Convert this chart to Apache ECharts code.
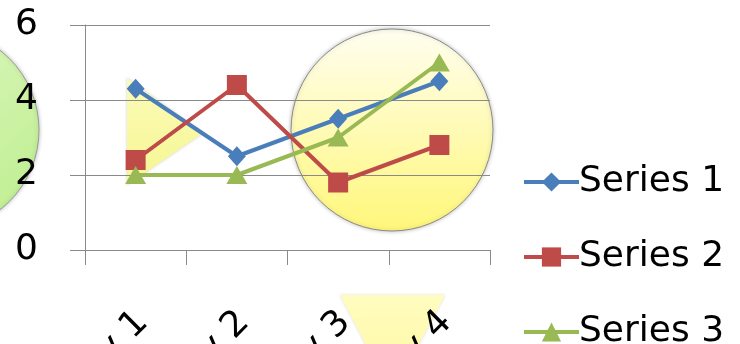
<!DOCTYPE html>
<html>
<head>
<meta charset="utf-8">
<script src="https://cdn.jsdelivr.net/npm/echarts@6/dist/echarts.min.js"></script>
<style>html,body{margin:0;padding:0;background:#fff;}#c{width:740px;height:344px;}</style>
</head>
<body>
<div id="c"></div>
<script>
const categories = ['Category 1', 'Category 2', 'Category 3', 'Category 4'];
const seriesNames = ['Series 1', 'Series 2', 'Series 3'];
const series1 = [4.3, 2.5, 3.5, 4.5];
const series2 = [2.4, 4.4, 1.8, 2.8];
const series3 = [2, 2, 3, 5];
const yTicks = [0, 2, 4, 6];

const FONT = 'DejaVu Sans';
const chart = echarts.init(document.getElementById('c'));
const grey = '#8a8a8a';
const yellowGrad = new echarts.graphic.LinearGradient(0, 0, 0, 1, [
  {offset: 0, color: '#fffef0'}, {offset: 1, color: '#fff77a'}]);
const yellowTri = new echarts.graphic.LinearGradient(0, 0, 0, 1, [
  {offset: 0, color: '#fbfbb8'}, {offset: 1, color: '#f6f692'}]);
const yellowTri2 = new echarts.graphic.LinearGradient(0, 0, 0, 1, [
  {offset: 0, color: '#fffcc0'}, {offset: 1, color: '#fff89c'}]);
const greenGrad = new echarts.graphic.LinearGradient(0, 0, 1, 1, [
  {offset: 0, color: '#e4f9cf'}, {offset: 1, color: '#bdee8c'}]);

chart.setOption({
  animation: false,
  textStyle: {fontFamily: FONT},
  graphic: [
    {type: 'circle', z: -10, shape: {cx: -62, cy: 130, r: 101},
      style: {fill: greenGrad, stroke: '#9a9a9a', lineWidth: 1, shadowBlur: 4, shadowColor: 'rgba(0,0,0,0.25)'}},
    {type: 'polygon', z: -10, shape: {points: [[127, 78], [203, 133], [127, 185]]},
      style: {fill: yellowTri, shadowBlur: 3, shadowColor: 'rgba(0,0,0,0.2)'}},
    {type: 'circle', z: -10, shape: {cx: 392, cy: 130, r: 101},
      style: {fill: yellowGrad, stroke: '#8a8a8a', lineWidth: 1, shadowBlur: 4, shadowColor: 'rgba(0,0,0,0.25)'}},
    {type: 'polygon', z: -10, shape: {points: [[340, 295], [445, 295], [392, 395]]},
      style: {fill: yellowTri2, shadowBlur: 3, shadowColor: 'rgba(0,0,0,0.15)'}}
  ],
  grid: {left: 85, right: 250, top: 25, bottom: 94, containLabel: false, outerBoundsMode: 'none'},
  legend: {
    orient: 'vertical', left: 517, top: 155, height: 300,
    itemWidth: 55, itemHeight: 24, itemGap: 31,
    lineStyle: {width: 4},
    textStyle: {fontFamily: FONT, fontSize: 36, color: '#000', lineHeight: 44, padding: [0, 0, 0, -5]},
    data: seriesNames
  },
  xAxis: {
    type: 'category', data: categories, boundaryGap: true,
    axisLine: {lineStyle: {color: grey, width: 1}},
    axisTick: {show: true, length: 15, lineStyle: {color: grey}, alignWithLabel: false},
    axisLabel: {rotate: 45, margin: 74, fontSize: 36, color: '#000', fontFamily: FONT, interval: 0, padding: [0, -10, 0, 0]},
    splitLine: {show: false}
  },
  yAxis: {
    type: 'value', min: yTicks[0], max: yTicks[yTicks.length - 1], interval: 2,
    axisLine: {show: true, lineStyle: {color: grey, width: 1}},
    axisTick: {show: true, length: 15, lineStyle: {color: grey}},
    axisLabel: {margin: 47, fontSize: 36, color: '#000', fontFamily: FONT},
    splitLine: {show: true, lineStyle: {color: grey, width: 1}}
  },
  series: [
    {name: seriesNames[0], type: 'line', data: series1, symbol: 'diamond', symbolSize: [18, 20],
      lineStyle: {width: 4, color: '#4a7ebb'}, itemStyle: {color: '#4a7ebb'}},
    {name: seriesNames[1], type: 'line', data: series2, symbol: 'rect', symbolSize: 20,
      lineStyle: {width: 4, color: '#be4b48'}, itemStyle: {color: '#be4b48'}},
    {name: seriesNames[2], type: 'line', data: series3, symbol: 'triangle', symbolSize: [21, 18],
      lineStyle: {width: 4, color: '#98b954'}, itemStyle: {color: '#98b954'}}
  ]
});
</script>
</body>
</html>
